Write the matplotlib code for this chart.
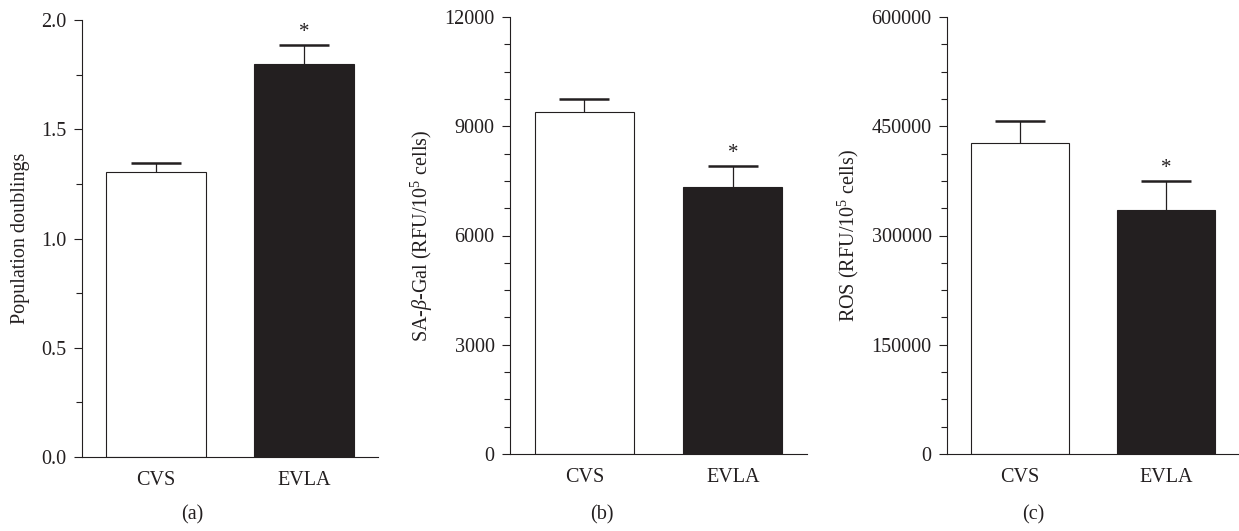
import numpy as np
import matplotlib
matplotlib.use("Agg")
import matplotlib.pyplot as plt
from matplotlib.ticker import MultipleLocator, FormatStrFormatter

plt.rcParams["font.family"] = ["Liberation Serif", "DejaVu Serif"]
plt.rcParams["mathtext.fontset"] = "custom"
plt.rcParams["mathtext.rm"] = "Liberation Serif"
plt.rcParams["mathtext.it"] = "Liberation Serif:italic"

####################################################
groups = ["CVS", "EVLA"]

pd_means = [1.305, 1.800]
pd_errs = [0.040, 0.087]

gal_means = [9400, 7320]
gal_errs = [335, 595]

ros_means = [426500, 334500]
ros_errs = [31000, 40500]

panel_labels = ["(a)", "(b)", "(c)"]
ylabels = ["Population doublings",
           r"SA-$\it{\beta}$-Gal (RFU/10$^{5}$ cells)",
           r"ROS (RFU/10$^{5}$ cells)"]
ymax = [2.0, 12000, 600000]
major_step = [0.5, 3000, 150000]
minor_step = [0.25, 750, 37500]
starred = [1, 1, 1]  # index of bar marked with *

ink = "#231f20"
fig = plt.figure(figsize=(12.39, 5.31), dpi=100)

axes_pos = [[82, 20, 378, 457], [510, 17, 807, 454], [947, 17, 1239, 454]]
panel_x = [192, 602, 1033]
ylabel_x = [21, 422, 848]

alldata = [(pd_means, pd_errs), (gal_means, gal_errs), (ros_means, ros_errs)]

for i, (means, errs) in enumerate(alldata):
    x0, y0, x1, y1 = axes_pos[i]
    ax = fig.add_axes([x0/1239, 1-y1/531, (x1-x0)/1239, (y1-y0)/531])
    xpos = np.arange(len(groups))
    means = np.array(means)
    tops = means + np.array(errs)
    ax.bar(xpos, means, width=0.67, color=["white", ink], edgecolor=ink, linewidth=0.8, zorder=2)
    # upper error bar only: stem + cap
    ax.vlines(xpos, means, tops, color=ink, linewidth=0.9, zorder=1)
    ax.hlines(tops, xpos-0.17, xpos+0.17, color=ink, linewidth=1.8, zorder=1)
    k = starred[i]
    ax.annotate("*", xy=(xpos[k], tops[k]), xytext=(0, 2), textcoords="offset points",
                ha="center", va="bottom", fontsize=15, color=ink)
    ax.set_xlim(-0.5, 1.5)
    ax.set_ylim(0, ymax[i])
    ax.yaxis.set_major_locator(MultipleLocator(major_step[i]))
    ax.yaxis.set_minor_locator(MultipleLocator(minor_step[i]))
    if i == 0:
        ax.yaxis.set_major_formatter(FormatStrFormatter("%.1f"))
    else:
        ax.yaxis.set_major_formatter(FormatStrFormatter("%d"))
    ax.set_xticks(xpos)
    ax.set_xticklabels(groups)
    ax.tick_params(axis="x", length=0, pad=10, labelsize=14.5, colors=ink)
    ax.tick_params(axis="y", which="major", length=6, width=0.8, pad=5, labelsize=14.5, colors=ink)
    ax.tick_params(axis="y", which="minor", length=4, width=0.8, colors=ink)
    for s in ["top", "right"]:
        ax.spines[s].set_visible(False)
    for s in ["left", "bottom"]:
        ax.spines[s].set_color(ink)
        ax.spines[s].set_linewidth(0.8)
    ax.spines["left"].set_zorder(3)
    fig.text(ylabel_x[i]/1239, 1-((y0+y1)/2)/531, ylabels[i], rotation=90, ha="center", va="center",
             fontsize=14.5, color=ink)
    fig.text(panel_x[i]/1239, 1-515/531, panel_labels[i], ha="center", va="center", fontsize=14.5, color=ink)

fig.savefig("out.png", dpi=100)
